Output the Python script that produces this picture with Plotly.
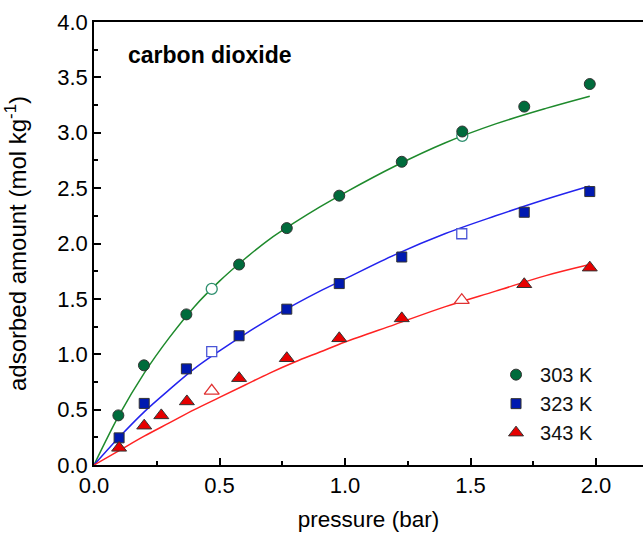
import plotly.graph_objects as go

# measured isotherm points (filled)
p_303 = [0.097, 0.199, 0.368, 0.578, 0.768, 0.977, 1.226, 1.467, 1.714, 1.975]
q_303 = [0.448, 0.90, 1.36, 1.81, 2.139, 2.432, 2.738, 3.011, 3.236, 3.44]
p_323 = [0.10, 0.20, 0.368, 0.578, 0.768, 0.977, 1.226, 1.714, 1.975]
q_323 = [0.245, 0.556, 0.868, 1.167, 1.407, 1.638, 1.878, 2.282, 2.469]
p_343 = [0.10, 0.20, 0.268, 0.37, 0.578, 0.768, 0.977, 1.226, 1.714, 1.975]
q_343 = [0.155, 0.355, 0.448, 0.574, 0.784, 0.964, 1.144, 1.324, 1.632, 1.782]

# open symbols
p_303_open = [0.469, 1.467]
q_303_open = [1.59, 2.972]
p_323_open = [0.469, 1.465]
q_323_open = [1.023, 2.088]
p_343_open = [0.469, 1.465]
q_343_open = [0.67, 1.488]

# fitted curves
p_fit = [0.0, 0.1, 0.2, 0.3, 0.4, 0.5, 0.6, 0.7, 0.8, 0.9, 1.0, 1.2, 1.4, 1.6, 1.8, 1.975]
q_fit_303 = [0.0, 0.45, 0.83, 1.15, 1.43, 1.66, 1.86, 2.04, 2.19, 2.33, 2.46, 2.70, 2.91, 3.08, 3.22, 3.33]
q_fit_323 = [0.0, 0.25, 0.48, 0.68, 0.87, 1.03, 1.18, 1.32, 1.45, 1.57, 1.68, 1.90, 2.09, 2.25, 2.40, 2.52]
q_fit_343 = [0.0, 0.13, 0.26, 0.38, 0.50, 0.61, 0.72, 0.83, 0.93, 1.02, 1.11, 1.27, 1.43, 1.57, 1.71, 1.81]

labels = ["303 K", "323 K", "343 K"]

FONT = "Liberation Sans, Arial, sans-serif"
OUT = "#333333"

fig = go.Figure()

series = [
    (p_fit, q_fit_303, p_303, q_303, p_303_open, q_303_open, "#1e8a2c", "#006b3c", "#2e8f6e", "circle", 11),
    (p_fit, q_fit_323, p_323, q_323, p_323_open, q_323_open, "#2323ee", "#0019b0", "#4a55d6", "square", 10),
    (p_fit, q_fit_343, p_343, q_343, p_343_open, q_343_open, "#ff2222", "#e60000", "#e03030", "triangle-up", 13),
]

for i, (px, qx, pm, qm, po, qo, lc, fc, oc, sym, sz) in enumerate(series):
    fig.add_trace(go.Scatter(x=px, y=qx, mode="lines", line=dict(color=lc, width=1.5, shape="spline"),
                             showlegend=False, hoverinfo="skip"))
for i, (px, qx, pm, qm, po, qo, lc, fc, oc, sym, sz) in enumerate(series):
    fig.add_trace(go.Scatter(x=po, y=qo, mode="markers", showlegend=False,
                             marker=dict(symbol=sym, size=sz, color="white", line=dict(color=oc, width=1.3))))
    fig.add_trace(go.Scatter(x=pm, y=qm, mode="markers", name=labels[i],
                             marker=dict(symbol=sym, size=sz, color=fc, line=dict(color=OUT, width=1))))

fig.add_annotation(text="<b>carbon dioxide</b>", xref="paper", yref="paper", x=0.058, y=0.926,
                   xanchor="left", yanchor="middle", showarrow=False,
                   font=dict(family=FONT, size=23, color="black"))

fig.update_layout(
    width=643, height=534,
    margin=dict(l=94, r=0, t=22, b=69),
    paper_bgcolor="white", plot_bgcolor="white",
    font=dict(family=FONT, size=22, color="black"),
    legend=dict(x=0.725, y=0.248, xanchor="left", yanchor="top", bgcolor="rgba(0,0,0,0)",
                font=dict(family=FONT, size=20, color="#111111"), tracegroupgap=0, itemwidth=38),
    xaxis=dict(range=[0, 2.187], tickvals=[0, 0.5, 1.0, 1.5, 2.0], ticktext=["0.0", "0.5", "1.0", "1.5", "2.0"],
               showgrid=False, zeroline=False, showline=True, linecolor="black", linewidth=1.5, mirror=True,
               ticks="inside", ticklen=7, tickwidth=1.5, tickcolor="black", automargin=False,
               minor=dict(dtick=0.25, ticks="inside", ticklen=4, tickwidth=1.5, tickcolor="black"),
               title=dict(text="pressure (bar)", font=dict(size=22.5), standoff=14),
               tickfont=dict(size=22)),
    yaxis=dict(range=[0, 4.0], tickvals=[0, 0.5, 1.0, 1.5, 2.0, 2.5, 3.0, 3.5, 4.0],
               ticktext=["0.0", "0.5", "1.0", "1.5", "2.0", "2.5", "3.0", "3.5", "4.0"],
               showgrid=False, zeroline=False, showline=True, linecolor="black", linewidth=1.5, mirror=False,
               ticks="inside", ticklen=7, tickwidth=1.5, tickcolor="black", automargin=False,
               minor=dict(dtick=0.25, ticks="inside", ticklen=4, tickwidth=1.5, tickcolor="black"),
               title=dict(text="adsorbed amount (mol kg<sup>-1</sup>)", font=dict(size=24), standoff=24),
               tickfont=dict(size=22)),
)

fig.write_html("out.html")
